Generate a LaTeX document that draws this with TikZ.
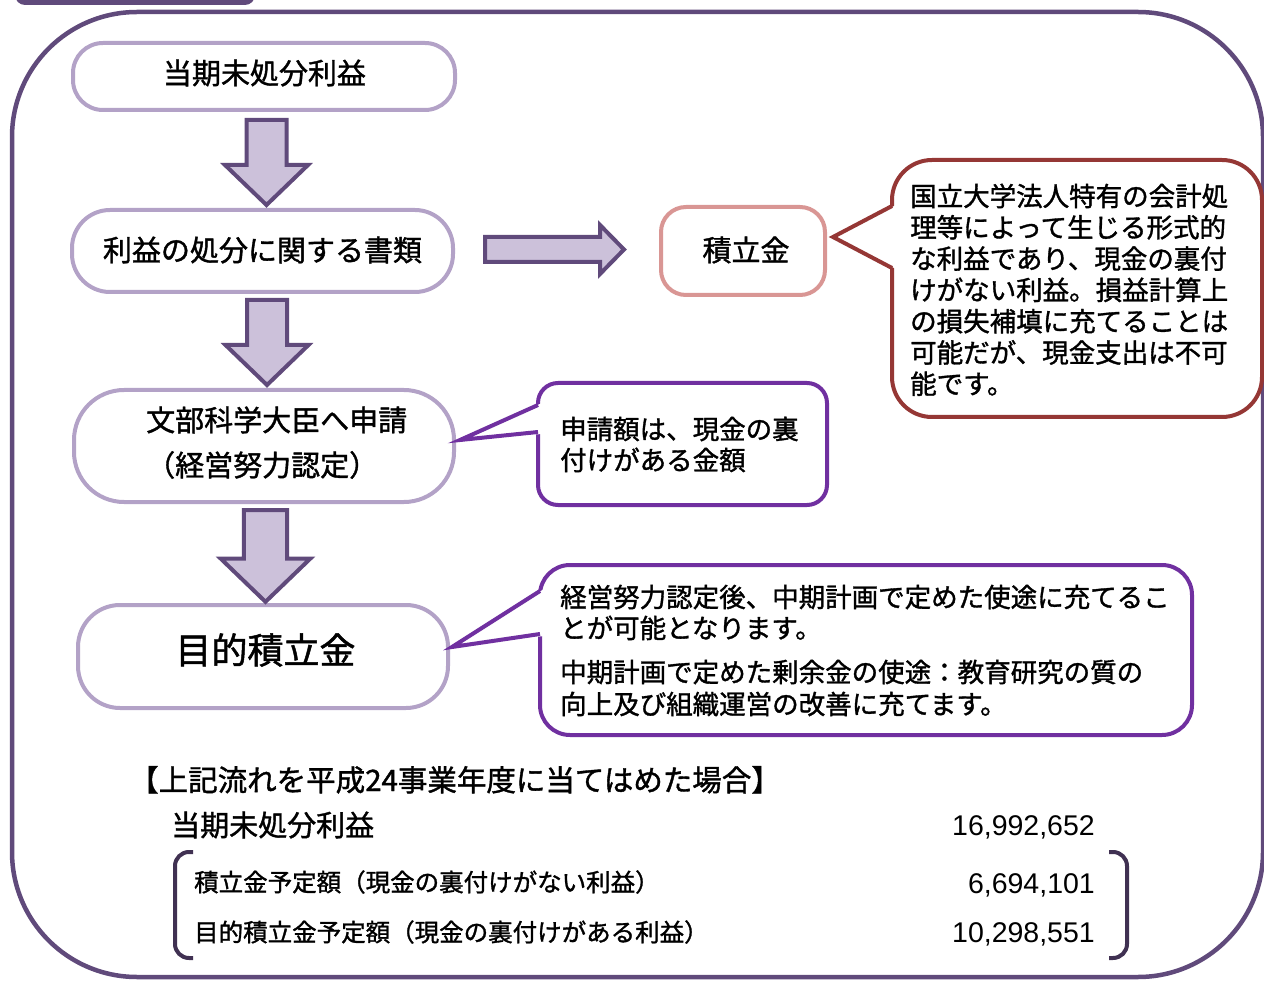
\documentclass[tikz,border=0pt]{standalone}
\usepackage{fontspec}
\setmainfont{Noto Sans CJK JP}[FakeBold=1.3]
\newfontfamily\numfont{Liberation Sans}
\definecolor{cFrame}{HTML}{604A7B}
\definecolor{cLav}{HTML}{B3A2C7}
\definecolor{cArr}{HTML}{CCC1DA}
\definecolor{cPink}{HTML}{D99694}
\definecolor{cRed}{HTML}{953735}
\definecolor{cPur}{HTML}{7030A0}
\definecolor{cBrk}{HTML}{403152}
\tikzset{
  lbox/.style={draw=cLav, line width=4pt, fill=white, inner sep=0pt},
  arr/.style={draw=cFrame, fill=cArr, line width=4pt, line join=miter},
  ln/.style={inner sep=0pt, anchor=west},
  t29/.style={inner sep=0pt, font=\fontsize{29pt}{35pt}\selectfont, text height=25.5pt, text depth=3.5pt},
  t26/.style={inner sep=0pt, font=\fontsize{26.5pt}{31pt}\selectfont, text height=23.3pt, text depth=3.2pt},
  t24/.style={inner sep=0pt, font=\fontsize{24.5pt}{30pt}\selectfont, text height=21.6pt, text depth=2.9pt},
  t36/.style={inner sep=0pt, font=\fontsize{36pt}{42pt}\selectfont, text height=31.7pt, text depth=4.3pt},
  nm/.style={font=\numfont\fontsize{28.5pt}{34pt}\selectfont, inner sep=0pt, anchor=base east},
  callR/.style={draw=cRed, line width=4pt, fill=white, inner sep=0pt},
  callP/.style={draw=cPur, line width=4pt, fill=white, inner sep=0pt},
  ptrR/.style={draw=cRed, line width=4pt, line join=miter},
  ptrP/.style={draw=cPur, line width=4pt, line join=miter},
  brk/.style={draw=cBrk, line width=4pt, rounded corners=14pt},
  pics/darrow/.style={code={\draw[arr] (-20,0) -- (20,0) -- (20,-45) -- (41.5,-45) -- (0,-85) -- (-41.5,-45) -- (-20,-45) -- cycle;}}
}
\begin{document}
\begin{tikzpicture}[x=1pt,y=1pt]
\useasboundingbox (0,0) rectangle (1264,-981);
% frame and tab
\draw[cFrame, line width=4.5pt, rounded corners=125pt] (12,-12) rectangle (1263,-977);
\fill[cFrame, rounded corners=10pt] (15,-5) rectangle (255,20);

% flow boxes
\node[lbox, rounded corners=30pt, minimum width=382pt, minimum height=67pt] (b1) at (264,-76.5) {};
\node[lbox, rounded corners=38pt, minimum width=381pt, minimum height=82pt] (b2) at (262.5,-251) {};
\node[lbox, rounded corners=50pt, minimum width=380pt, minimum height=112pt] (b3) at (264,-446) {};
\node[lbox, rounded corners=42pt, minimum width=370pt, minimum height=103pt] (b4) at (263,-656.5) {};
\node[draw=cPink, line width=4pt, fill=white, rounded corners=25pt, minimum width=164pt, minimum height=88pt, inner sep=0pt] (b5) at (743,-251) {};

\node[t29] (t1) at (264.5,-73) {当期未処分利益};
\node[t29] (t2) at (262.5,-250) {利益の処分に関する書類};
\node[t29,ln] (t3a) at (146,-420) {文部科学大臣へ申請};
\node[t29,ln] (t3b) at (146,-465) {（経営努力認定）};
\node[t36] (t4) at (265.5,-650) {目的積立金};
\node[t29] (t5) at (746,-250) {積立金};

% block arrows
\pic (a1) at (266.5,-120) {darrow};
\pic (a2) at (267,-300) {darrow};
\pic[scale=1.08] (a3) at (265.5,-510) {darrow};
\draw[arr] (485,-237) -- (600,-237) -- (600,-225) -- (624,-249.5) -- (600,-274) -- (600,-262) -- (485,-262) -- cycle;

% red callout
\node[callR, rounded corners=40pt, minimum width=370pt, minimum height=257pt] (c1) at (1077,-288.5) {};
\fill[white] (896,-205) -- (833,-237) -- (896,-269) -- cycle;
\draw[ptrR] (892,-206) -- (833,-237) -- (892,-268);
\foreach \t [count=\i from 0] in {国立大学法人特有の会計処,理等によって生じる形式的,な利益であり、現金の裏付,けがない利益。損益計算上,の損失補填に充てることは,可能だが、現金支出は不可,能です。}
  \node[t26,ln] (r\i) at (910,-196-31.3*\i) {\t};

% purple callout 1
\node[callP, rounded corners=20pt, minimum width=289pt, minimum height=122pt] (c2) at (682.5,-444) {};
\fill[white] (542,-403) -- (460,-440) -- (542,-434) -- cycle;
\draw[ptrP] (538,-405) -- (460,-440) -- (538,-432);
\node[t26,ln] (p1a) at (560,-429) {申請額は、現金の裏};
\node[t26,ln] (p1b) at (560,-460) {付けがある金額};

% purple callout 2
\node[callP, rounded corners=30pt, minimum width=652pt, minimum height=170pt] (c3) at (866,-650) {};
\fill[white] (544,-589) -- (452,-647) -- (544,-636) -- cycle;
\draw[ptrP] (540,-591) -- (452,-647) -- (540,-634);
\node[t26,ln] (p2a) at (560,-597) {経営努力認定後、中期計画で定めた使途に充てるこ};
\node[t26,ln] (p2b) at (560,-628) {とが可能となります。};
\node[t26,ln] (p2c) at (560,-672) {中期計画で定めた剰余金の使途：教育研究の質の};
\node[t26,ln] (p2d) at (560,-704) {向上及び組織運営の改善に充てます。};

% bottom summary
\node[t29,ln, font=\fontsize{29.5pt}{35pt}\selectfont] (h1) at (129,-780) {【上記流れを平成24事業年度に当てはめた場合】};
\node[t29,ln] (h2) at (171,-825) {当期未処分利益};
\node[nm] (v1) at (1095,-835) {16,992,652};
\node[t24,ln] (s1) at (194,-882) {積立金予定額（現金の裏付けがない利益）};
\node[t24,ln] (s2) at (194,-932) {目的積立金予定額（現金の裏付けがある利益）};
\node[nm] (v2) at (1095,-893) {6,694,101};
\node[nm] (v3) at (1095,-942) {10,298,551};
\draw[brk] (193,-852) -- (175,-852) -- (175,-958) -- (193,-958);
\draw[brk] (1109,-852) -- (1127,-852) -- (1127,-958) -- (1109,-958);
\end{tikzpicture}
\end{document}
